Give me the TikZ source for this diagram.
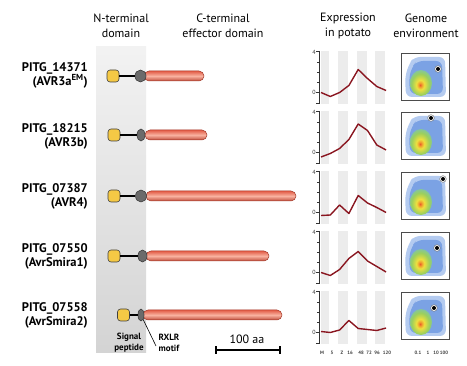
\documentclass[tikz,border=0pt]{standalone}
\usepackage{fontspec}
\setmainfont{PT Sans}
\usetikzlibrary{shapes.misc,shapes.geometric}
\definecolor{spy}{HTML}{F5C945}
\definecolor{rxg}{HTML}{6B6B6B}
\definecolor{effmid}{HTML}{F9B2A0}
\definecolor{effedge}{HTML}{E25C46}
\definecolor{effline}{HTML}{A33A2A}
\definecolor{curvec}{HTML}{8A1620}
\definecolor{stripe}{HTML}{ECECEC}
\definecolor{bluel}{HTML}{B4CBF0}
\definecolor{blued}{HTML}{7BA2E4}
\definecolor{hred}{HTML}{E85A2A}
\definecolor{horange}{HTML}{F2A030}
\definecolor{hyellow}{HTML}{EEE040}
\definecolor{hgreen}{HTML}{9CCF5C}
\definecolor{hcyan}{HTML}{74BFC8}
\pgfdeclareradialshading{hot}{\pgfpoint{-2bp}{-4bp}}{color(0bp)=(hred); color(4bp)=(horange); color(9bp)=(hyellow); color(20bp)=(hgreen); color(32bp)=(hcyan); color(46bp)=(blued); color(60bp)=(blued)}
\tikzset{
  spbox/.style={draw=black!75, fill=spy, rounded corners=3pt, minimum size=12pt, inner sep=0pt, line width=0.6pt},
  rxbox/.style={ellipse, draw=black!75, fill=rxg, minimum height=12pt, inner sep=0pt, line width=0.6pt},
  effbar/.style={rounded rectangle, draw=effline, line width=0.5pt, top color=effedge, bottom color=effedge!85!black, middle color=effmid, minimum height=10pt, inner sep=0pt},
  link/.style={line width=1.2pt, black},
  lbl/.style={font=\fontsize{12.5}{14}\selectfont\bfseries, align=right, anchor=east, inner sep=0pt},
  head/.style={font=\fontsize{12}{15}\selectfont, align=center, inner sep=0pt},
  small/.style={font=\fontsize{9}{11}\selectfont\bfseries, align=center, inner sep=0pt},
  tiny/.style={font=\fontsize{4.8}{5}\selectfont\bfseries, text=black!75, inner sep=0pt},
  ticklbl/.style={font=\fontsize{6}{6}\selectfont, text=black!80, inner sep=0pt},
  axisl/.style={line width=0.9pt, black!80},
  curvel/.style={line width=1.4pt, curvec, line join=round},
  gbox/.style={draw=black!70, line width=0.9pt, minimum width=48pt, minimum height=47pt, inner sep=0pt}
}
% #1 id, #2 y, #3 sp x, #4 rx x, #5 rx width, #6 bar start, #7 bar end
\newcommand\effrow[7]{%
  \pgfmathsetmacro\bw{#7-#6}\pgfmathsetmacro\bc{(#6+#7)/2}%
  \node[effbar, minimum width=\bw pt] (ef#1) at (\bc,#2) {};
  \node[spbox] (sp#1) at (#3,#2) {};
  \node[rxbox, minimum width=#5pt] (rx#1) at (#4,#2) {};
  \draw[link] (sp#1) -- (rx#1);
}
% #1 y0, #2 first value, #3 remaining values
\newcommand\exprplot[3]{%
  \foreach \sx/\ex in {321/329,338/348,357/367,375/385}
    \fill[stripe] (\sx,{#1-41}) rectangle (\ex,{#1+12});
  \draw[axisl] (316,{#1-41}) -- (319,{#1-41}) -- (319,{#1+11}) -- (316,{#1+11});
  \draw[axisl] (316,#1) -- (319,#1);
  \foreach \t in {1,2,3} \draw[line width=0.6pt, black!80] (317,{#1-10*\t}) -- (319,{#1-10*\t});
  \node[ticklbl] at (314,{#1-40}) {4};
  \node[ticklbl] at (314,#1) {0};
  \draw[curvel] (321,{#1-10*(#2)}) \foreach \v [count=\i] in {#3} { -- ({321+9.3*\i},{#1-10*(\v)}) };
}
% #1 id, #2 top, #3 dot dx, #4 dot dy
\newcommand\genomepanel[4]{%
  \begin{scope}[shift={(401,#2)}]
    \fill[bluel, rounded corners=6pt] (13,4) -- (44,4) -- (45,44) -- (5,44) -- (4,24) -- (8,11) -- cycle;
    \fill[blued, rounded corners=6pt] (16,8) -- (41,8) -- (42,41) -- (9,41) -- (8,25) -- (11,14) -- cycle;
    \shade[shading=hot] (20,30) ellipse [x radius=11pt, y radius=13pt];
    \fill[white] (#3,#4) circle [radius=3.3pt];
    \draw[black!60, line width=0.4pt] (#3,#4) circle [radius=3.3pt];
    \fill[black] (#3,#4) circle [radius=2pt];
  \end{scope}
  \node[gbox, anchor=north west] (g#1) at (401,#2) {};
}
\begin{document}
\begin{tikzpicture}[x=1pt,y=-1pt]
\useasboundingbox[fill=white] (0,0) rectangle (467,366);
% grey band
\shade[top color=black!5, middle color=black!23, bottom color=black!17] (96,47) rectangle (146,353);
% headers
\node[head] (hN) at (121,26) {N-terminal\\domain};
\node[head] (hC) at (223,26) {C-terminal\\effector domain};
\node[head] (hE) at (348,26) {Expression\\in potato};
\node[head] (hG) at (426,26) {Genome\\environment};
% labels
\node[lbl] (l1) at (88,75) {PITG\_14371\\(AVR3a\textsuperscript{EM})};
\node[lbl] (l2) at (88,136) {PITG\_18215\\(AVR3b)};
\node[lbl] (l3) at (88,196) {PITG\_07387\\(AVR4)};
\node[lbl] (l4) at (88,256) {PITG\_07550\\(AvrSmira1)};
\node[lbl] (l5) at (88,315) {PITG\_07558\\(AvrSmira2)};
% proteins
\effrow{1}{76}{113}{140.5}{11}{144}{204}
\effrow{2}{135}{114}{141}{8}{145}{207}
\effrow{3}{196}{114}{141}{11}{146}{296}
\effrow{4}{256}{114}{142.5}{9}{146}{269}
\effrow{5}{315}{123.5}{141}{6}{143}{282}
% annotations
\node[small] (sig) at (129,343) {Signal\\peptide};
\node[small] (rxlr) at (169,343) {RXLR\\motif};
\coordinate (rxend) at (156,346);
\draw[line width=0.6pt] (rx5) -- (rxend);
\node[head] (aa) at (247,339) {100 aa};
\coordinate (sbL) at (216,350);
\coordinate (sbR) at (280,350);
\draw[line width=1.6pt] (sbL) -- (sbR);
\draw[line width=1.2pt] ([yshift=-4pt]sbL) -- ([yshift=4pt]sbL);
\draw[line width=1.2pt] ([yshift=-4pt]sbR) -- ([yshift=4pt]sbR);
% expression plots
\exprplot{92.5}{0}{-0.4,0,0.7,2.3,1.4,0.6,0.2}
\exprplot{152.5}{-0.45}{-0.1,0.4,1.3,2.85,2.2,0.75,0.25}
\exprplot{212.5}{-0.3}{-0.25,0.75,-0.1,1.7,0.95,0.5,0}
\exprplot{272.5}{0}{-0.3,0.3,1.4,2.1,1.15,0.6,0.05}
\exprplot{332.5}{0.1}{0,0.25,1.2,0.4,0.3,0.2,0.45}
\foreach \x/\t in {322/M,332/5,342/Z,350/16,361/48,369/72,377/96,387/120}
  \node[tiny] at (\x,353) {\t};
% genome panels
\genomepanel{1}{53}{37}{16}
\genomepanel{2}{112}{30}{6}
\genomepanel{3}{172}{42}{7}
\genomepanel{4}{232}{36}{16}
\genomepanel{5}{292}{33}{16}
\foreach \x/\t in {418/0.1,428/1,436/10,444/100}
  \node[tiny] at (\x,353) {\t};
\end{tikzpicture}
\end{document}
